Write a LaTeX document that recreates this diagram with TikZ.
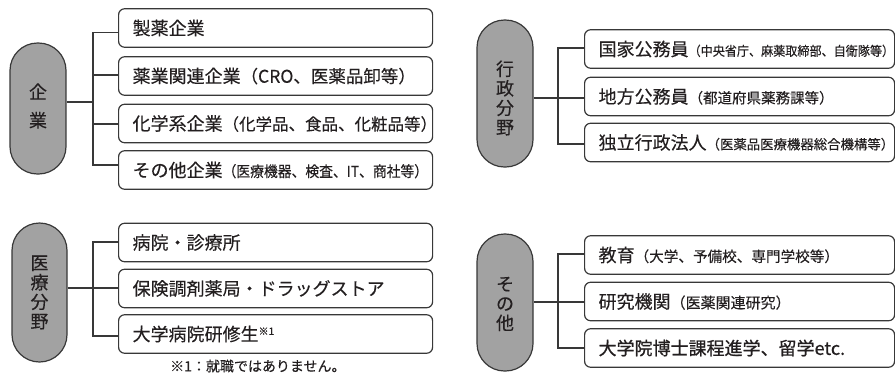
\documentclass[tikz,border=0pt]{standalone}
\usepackage{graphicx}
\usepackage{fontspec}
\setmainfont[FakeBold=0.25]{Noto Sans CJK JP}
\newfontfamily\heavyjp[FakeBold=0.8]{Noto Sans CJK JP}
\definecolor{linec}{HTML}{383838}
\definecolor{txt}{HTML}{231F20}
\definecolor{capedge}{HTML}{A2A2A2}
\definecolor{caplight}{HTML}{F6F6F6}
\newcommand\subpart[3][1]{\scalebox{#1}[1]{\fontsize{#2}{#2}\selectfont #3}}
\tikzset{
  box/.style={draw=linec, line width=1.2pt, rounded corners=6pt, minimum height=38.5pt,
    inner xsep=14pt, inner ysep=0pt, anchor=west, align=left, text=txt,
    font=\fontsize{18}{18}\selectfont},
  lbox/.style={box, text width=286pt},
  rbox/.style={box, text width=282pt},
  capsule/.style={draw=linec, line width=1.2pt, rounded corners=27.5pt, inner sep=0pt,
    left color=capedge, middle color=caplight, right color=capedge},
  captext/.style={align=center, text=txt, inner sep=0pt},
  conn/.style={draw=linec, line width=1.1pt},
}
\begin{document}
\begin{tikzpicture}[x=1pt,y=-1pt]
\useasboundingbox (0,0) rectangle (895,373);

% ---------- 企業 ----------
\node[capsule, minimum width=56pt, minimum height=131pt] (cap1) at (38,108.5) {};
\node[captext, font=\fontsize{18}{28.5}\selectfont] (t1) at (38,106) {企\\業};
\node[lbox] (b1) at (118,28) {製薬企業};
\node[lbox] (b2) at (118,76) {薬業関連企業\subpart{17.5}{（CRO、医薬品卸等）}};
\node[lbox] (b3) at (118,123.5) {化学系企業\subpart{16.5}{（化学品、食品、化粧品等）}};
\node[lbox] (b4) at (118,170) {その他企業\subpart[0.92]{15}{（医療機器、検査、IT、商社等）}};
\coordinate (j1) at (93,102);
\draw[conn] (cap1.east |- j1) -- (j1);
\draw[conn] ([yshift=-4.5pt]b1.west) -| (j1);
\draw[conn] ([yshift=1pt]b2.west) -| (j1);
\draw[conn] ([yshift=-0.5pt]b3.west) -| (j1);
\draw[conn] ([yshift=5pt]b4.west) -| (j1);

% ---------- 行政分野 ----------
\node[capsule, minimum width=56pt, minimum height=147pt] (cap2) at (505,93.5) {};
\node[captext, font=\fontsize{18}{19.5}\selectfont] (t2) at (505,98) {行\\政\\分\\野};
\node[rbox] (g1) at (584,49) {国家公務員\subpart[0.93]{13}{（中央省庁、麻薬取締部、自衛隊等）}};
\node[rbox] (g2) at (584,96.5) {地方公務員\subpart{14.5}{（都道府県薬務課等）}};
\node[rbox] (g3) at (584,142.5) {独立行政法人\subpart{13.4}{（医薬品医療機器総合機構等）}};
\coordinate (j2) at (558,98);
\draw[conn] (cap2.east |- j2) -- (j2);
\draw[conn] ([yshift=1pt]g1.west) -| (j2);
\draw[conn] ([yshift=-1.5pt]g2.west) -| (j2);
\draw[conn] ([yshift=-1.5pt]g3.west) -| (j2);

% ---------- 医療分野 ----------
\node[capsule, minimum width=55pt, minimum height=139pt] (cap3) at (39.5,292.5) {};
\node[captext, font=\fontsize{18}{19.5}\selectfont] (t3) at (39.5,292.5) {医\\療\\分\\野};
\node[lbox] (m1) at (118,242.5) {病院・診療所};
\node[lbox] (m2) at (118,288.5) {保険調剤薬局・ドラッグストア};
\node[lbox] (m3) at (118,334) {大学病院研修生\raisebox{6pt}{\fontsize{10}{10}\selectfont ※1}};
\node[anchor=west, inner sep=0pt, text=txt, font=\fontsize{14}{14}\selectfont] (fn) at (170,366) {※1：就職ではありません。};
\coordinate (j3) at (93,288);
\draw[conn] (cap3.east |- j3) -- (j3);
\draw[conn] ([yshift=0.5pt]m1.west) -| (j3);
\draw[conn] ([yshift=0.5pt]m2.west) -| (j3);
\draw[conn] ([yshift=-2pt]m3.west) -| (j3);

% ---------- その他 ----------
\node[capsule, minimum width=56pt, minimum height=137pt] (cap4) at (505,302.5) {};
\node[captext, font=\fontsize{18}{19.5}\selectfont] (t4) at (505,304) {そ\\の\\他};
\node[rbox] (o1) at (584,255) {教育\subpart{14.6}{（大学、予備校、専門学校等）}};
\node[rbox] (o2) at (584,301.5) {研究機関\subpart{15}{（医薬関連研究）}};
\node[rbox] (o3) at (584,348) {{\heavyjp 大学院博士課程進学、留学etc.}};
\coordinate (j4) at (558,302);
\draw[conn] (cap4.east |- j4) -- (j4);
\draw[conn] ([yshift=1pt]o1.west) -| (j4);
\draw[conn] ([yshift=-0.5pt]o2.west) -| (j4);
\draw[conn] (o3.west) -| (j4);
\end{tikzpicture}
\end{document}
